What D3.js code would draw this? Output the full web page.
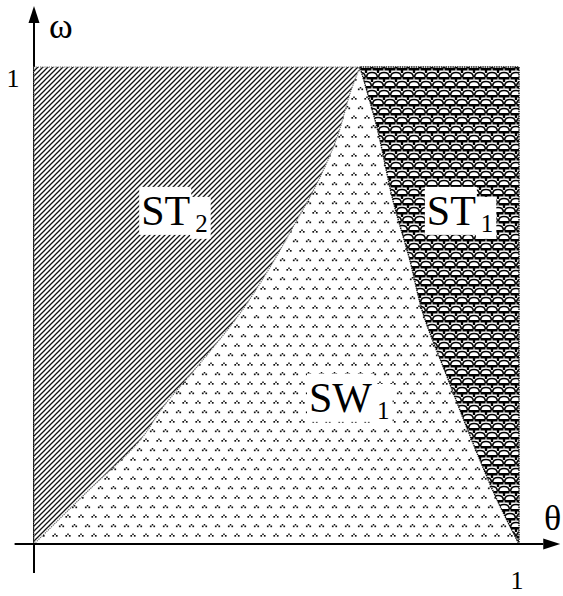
<!DOCTYPE html>
<html><head><meta charset="utf-8">
<script src="https://cdn.jsdelivr.net/npm/d3@7"></script>
<style>
html,body{margin:0;padding:0;background:#fff;} svg{display:block;}
text{font-family:"Liberation Serif", "Times New Roman", Times, serif;}
</style>
</head><body>
<script>
// ---- data ----
const leftBoundaryTheta  = [0, 0.109, 0.219, 0.266, 0.348, 0.425, 0.487, 0.542, 0.584, 0.625, 0.652, 0.672];
const leftBoundaryOmega  = [0, 0.109, 0.218, 0.287, 0.386, 0.484, 0.581, 0.679, 0.757, 0.853, 0.946, 1];
const rightBoundaryTheta = [0.672, 0.707, 0.740, 0.775, 0.802, 0.852, 0.905, 0.955, 1];
const rightBoundaryOmega = [1, 0.874, 0.721, 0.595, 0.484, 0.350, 0.212, 0.092, 0];
const regionNames = ["ST", "ST", "SW"];
const regionSubs  = ["2", "1", "1"];
const regionLabelTheta = [0.221, 0.810, 0.567];
const regionLabelOmega = [0.669, 0.669, 0.277];
const xTickValues = [1], xTickLabels = ["1"];
const yTickValues = [1], yTickLabels = ["1"];
const xAxisName = "θ", yAxisName = "ω";

const W = 563, H = 596;
const svg = d3.select("body").append("svg").attr("width", W).attr("height", H);
const x = d3.scaleLinear().domain([0, 1]).range([34, 519]);
const y = d3.scaleLinear().domain([0, 1]).range([544, 67]);

const defs = svg.append("defs");
// hatch pattern (ST2)
const ph = defs.append("pattern").attr("id", "hatch").attr("patternUnits", "userSpaceOnUse")
  .attr("width", 5).attr("height", 5);
ph.append("rect").attr("width", 5).attr("height", 5).attr("fill", "#fff");
ph.append("path").attr("d", "M-1,1L1,-1M0,5L5,0M4,6L6,4")
  .attr("stroke", "#111").attr("stroke-width", 1.3);
// dots pattern (SW1)
const pd = defs.append("pattern").attr("id", "dots").attr("patternUnits", "userSpaceOnUse")
  .attr("width", 13).attr("height", 19);
pd.append("rect").attr("width", 13).attr("height", 19).attr("fill", "#fff");
[[3, 3], [9.5, 12.5]].forEach(([cx, cy]) => {
  pd.append("rect").attr("x", cx - 0.75).attr("y", cy - 1.5).attr("width", 1.5).attr("height", 1.5).attr("fill", "#111");
  pd.append("rect").attr("x", cx - 2.6).attr("y", cy).attr("width", 1.7).attr("height", 1.7).attr("fill", "#111");
  pd.append("rect").attr("x", cx + 0.9).attr("y", cy).attr("width", 1.7).attr("height", 1.7).attr("fill", "#111");
});
// scales pattern (ST1)
const SW_ = 12, SH_ = 18;
const ps = defs.append("pattern").attr("id", "scales").attr("patternUnits", "userSpaceOnUse")
  .attr("width", SW_).attr("height", SH_);
ps.append("rect").attr("width", SW_).attr("height", SH_).attr("fill", "#fff");
const hw = SW_ / 2, hh = SH_ / 2;
[[hw, -hh], [0, 0], [SW_, 0], [hw, hh], [0, SH_], [SW_, SH_]].forEach(([cx, cy]) => {
  ps.append("path").attr("d", `M${cx-hw+0.6},${cy+5.5}Q${cx-hw+0.6},${cy+0.5} ${cx},${cy+0.5}Q${cx+hw-0.6},${cy+0.5} ${cx+hw-0.6},${cy+5.5}`)
    .attr("fill", "none").attr("stroke", "#000").attr("stroke-width", 1.5);
  ps.append("rect").attr("x", cx - 5.5).attr("y", cy + 5).attr("width", 11).attr("height", 2.5).attr("fill", "#000");
  ps.append("rect").attr("x", cx - 1.2).attr("y", cy + 7).attr("width", 2.4).attr("height", 3).attr("fill", "#000");
});

// ---- y axis line (below regions) ----
svg.append("line").attr("x1", x(0)).attr("x2", x(0)).attr("y1", y(-0.061)).attr("y2", y(1.095))
  .attr("stroke", "#000").attr("stroke-width", 2);

// ---- regions ----
const leftPts = leftBoundaryTheta.map((t, i) => [t, leftBoundaryOmega[i]]);
const rightPts = rightBoundaryTheta.map((t, i) => [t, rightBoundaryOmega[i]]);
const curve = d3.curveCatmullRom.alpha(0.5);
const lineGen = d3.line().x(d => x(d[0])).y(d => y(d[1])).curve(curve);
const leftD = lineGen(leftPts);
const rightD = lineGen(rightPts);

// SW1
svg.append("path")
  .attr("d", leftD + "L" + rightD.slice(1) + "Z")
  .attr("fill", "url(#dots)");
// ST2
svg.append("path")
  .attr("d", leftD + `L${x(0)},${y(1)}Z`)
  .attr("fill", "url(#hatch)")
  .attr("stroke", "#6a6a6a").attr("stroke-width", 1.2).attr("stroke-dasharray", "1.2,1");
// ST1
svg.append("path")
  .attr("d", rightD + `L${x(1)},${y(1)}Z`)
  .attr("fill", "url(#scales)")
  .attr("stroke", "#111").attr("stroke-width", 1.4).attr("stroke-dasharray", "1.5,0.8");

// ---- x axis (on top) ----
svg.append("line").attr("x1", x(-0.04)).attr("x2", x(1.05)).attr("y1", y(0)).attr("y2", y(0))
  .attr("stroke", "#000").attr("stroke-width", 2.2);
const xt = x(1.085);
svg.append("path").attr("d", `M${xt},${y(0)}L${xt-17},${y(0)-5.5}L${xt-17},${y(0)+5.5}Z`).attr("fill", "#000");
const yt = y(1.128);
svg.append("path").attr("d", `M${x(0)},${yt}L${x(0)-5.5},${yt+17}L${x(0)+5.5},${yt+17}Z`).attr("fill", "#000");

// ---- axis labels ----
svg.append("text").text(yAxisName).attr("x", x(0) + 15).attr("y", 38)
  .attr("font-size", 36).attr("fill", "#000");
svg.append("text").text(xAxisName).attr("x", 544).attr("y", y(0) - 14)
  .attr("font-size", 36).attr("fill", "#000");
xTickValues.forEach((v, i) => {
  svg.append("text").text(xTickLabels[i]).attr("x", x(v) - 2).attr("y", 589)
    .attr("text-anchor", "middle").attr("font-size", 26);
});
yTickValues.forEach((v, i) => {
  svg.append("text").text(yTickLabels[i]).attr("x", 13).attr("y", y(v) + 20)
    .attr("text-anchor", "middle").attr("font-size", 26);
});

// ---- region labels with white backgrounds ----
regionNames.forEach((name, i) => {
  const g = svg.append("g");
  const bx = x(regionLabelTheta[i]), by = y(regionLabelOmega[i]);
  const rMain = g.append("rect").attr("fill", "#fff");
  const rSub = g.append("rect").attr("fill", "#fff");
  const tMain = g.append("text").text(name).attr("x", bx).attr("y", by)
    .attr("font-size", 42).attr("fill", "#000");
  const endX = bx + tMain.node().getComputedTextLength();
  const tSub = g.append("text").text(regionSubs[i]).attr("x", endX + 5).attr("y", by + 7)
    .attr("font-size", 25).attr("fill", "#000");
  const bm = tMain.node().getBBox(), bs = tSub.node().getBBox();
  rMain.attr("x", bm.x - 2).attr("y", bm.y - 1).attr("width", bm.width + 3).attr("height", bm.height + 2);
  rSub.attr("x", bm.x + bm.width).attr("y", bm.y + 9)
    .attr("width", bs.x + bs.width + 3 - (bm.x + bm.width)).attr("height", bs.y + bs.height + 2 - (bm.y + 9));
});
</script>
</body></html>
